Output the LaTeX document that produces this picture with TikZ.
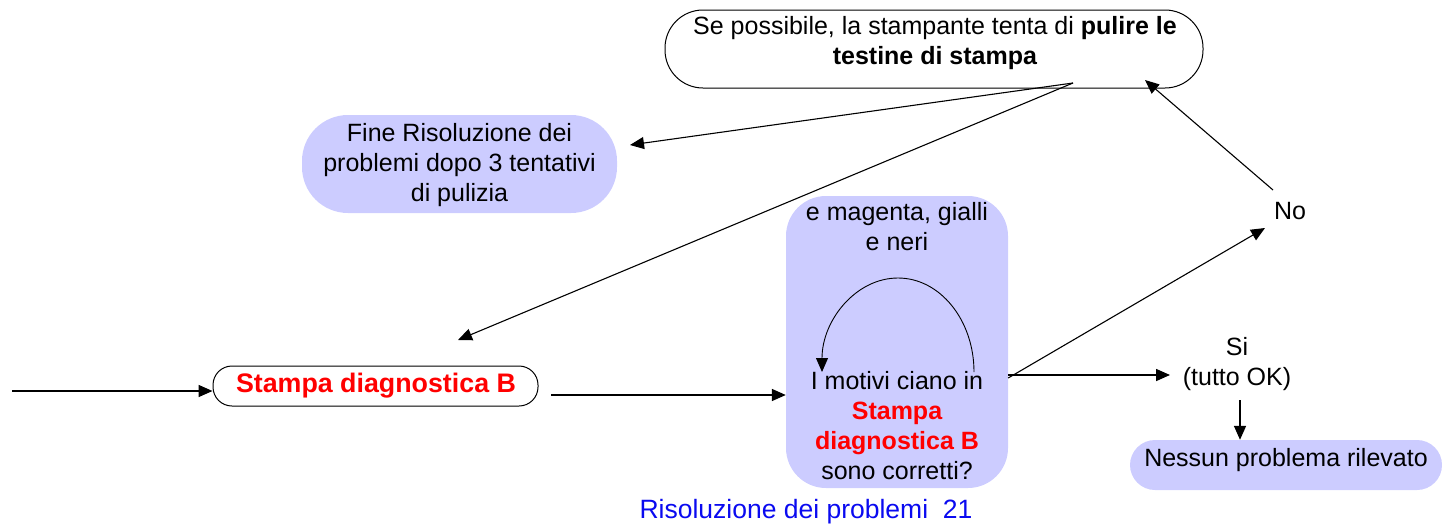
\documentclass[tikz,border=0pt]{standalone}
\usepackage{fontspec}
\setmainfont{Liberation Sans}
\usetikzlibrary{arrows.meta}
\definecolor{boxblue}{RGB}{204,204,255}
\definecolor{txtred}{RGB}{255,0,0}
\definecolor{footblue}{RGB}{10,10,240}
\tikzset{
  txt/.style={inner sep=0pt, align=center, font=\fontsize{25}{30}\selectfont},
  whitebox/.style={draw=black, line width=1pt, fill=white, inner sep=0pt},
  bluebox/.style={fill=boxblue, inner sep=0pt},
  thickarr/.style={line width=1.6pt, -{Triangle[length=14pt,width=12pt]}},
  thinarr/.style={line width=1.1pt, -{Triangle[length=14pt,width=12pt]}},
  redb/.style={text=txtred, font=\fontsize{26.8}{30}\selectfont\bfseries}
}
\begin{document}
\begin{tikzpicture}[x=1pt,y=-1pt]
\useasboundingbox (0,0) rectangle (1442,530);
% boxes
\node[whitebox, rounded corners=38pt, minimum width=538pt, minimum height=78pt] (top) at (934,49) {};
\node[txt] (toptxt) at (935,43) {Se possibile, la stampante tenta di \textbf{pulire le}\\\textbf{testine di stampa}};
\node[bluebox, rounded corners=46pt, minimum width=315pt, minimum height=98pt] (fine) at (459.5,164) {};
\node[txt] (finetxt) at (459.5,165) {Fine Risoluzione dei\\problemi dopo 3 tentativi\\di pulizia};
\node[whitebox, rounded corners=19pt, minimum width=325pt, minimum height=40pt] (stampa) at (375.5,386) {};
\node[txt, redb] (stampatxt) at (376,386) {Stampa diagnostica B};
\node[bluebox, rounded corners=40pt, minimum width=222pt, minimum height=292pt] (mid) at (897,342) {};
\node[txt] (midtop) at (897,227) {e magenta, gialli\\e neri};
\node[txt] (midbot) at (897,426) {I motivi ciano in\\\textcolor{txtred}{\bfseries Stampa}\\\textcolor{txtred}{\bfseries diagnostica B}\\sono corretti?};
\node[bluebox, rounded corners=25pt, minimum width=312pt, minimum height=50pt] (ness) at (1286,465) {};
\node[txt] (nesstxt) at (1286,460) {Nessun problema rilevato};
\node[txt] (no) at (1290,211) {No};
\node[txt] (si) at (1237,364) {Si\\(tutto OK)};
\node[txt, text=footblue, font=\fontsize{26.5}{30}\selectfont] (foot) at (806,512) {Risoluzione dei problemi\ \ 21};
% coordinates
\coordinate (in) at (12,391);
\coordinate (sout) at (551,395);
\coordinate (conv) at (1073,83);
\coordinate (noin) at (1265,228);
\coordinate (noout) at (1273,190);
\coordinate (topin) at (1145,80);
\coordinate (finein) at (630,145);
\coordinate (stampain) at (458,340);
\coordinate (siin) at (1170,375);
\coordinate (siout) at (1240,400);
% connectors
\draw[thickarr] (in) -- (stampa.west |- in);
\draw[thickarr] (sout) -- (mid.west |- sout);
\draw[thickarr] (mid.east |- siin) -- (siin);
\draw[thinarr] ([yshift=-3pt]mid.east |- siin) -- (noin);
\draw[thinarr] (noout) -- (topin);
\draw[thinarr] (conv) -- (finein);
\draw[thinarr] (conv) -- (stampain);
\draw[thickarr] (siout) -- (ness.north -| siout);
% loop arc
\draw[line width=0.9pt, -{Triangle[length=14pt,width=12pt]}] (974,372) arc[start angle=0, end angle=-180, x radius=76, y radius=94];
\end{tikzpicture}
\end{document}
